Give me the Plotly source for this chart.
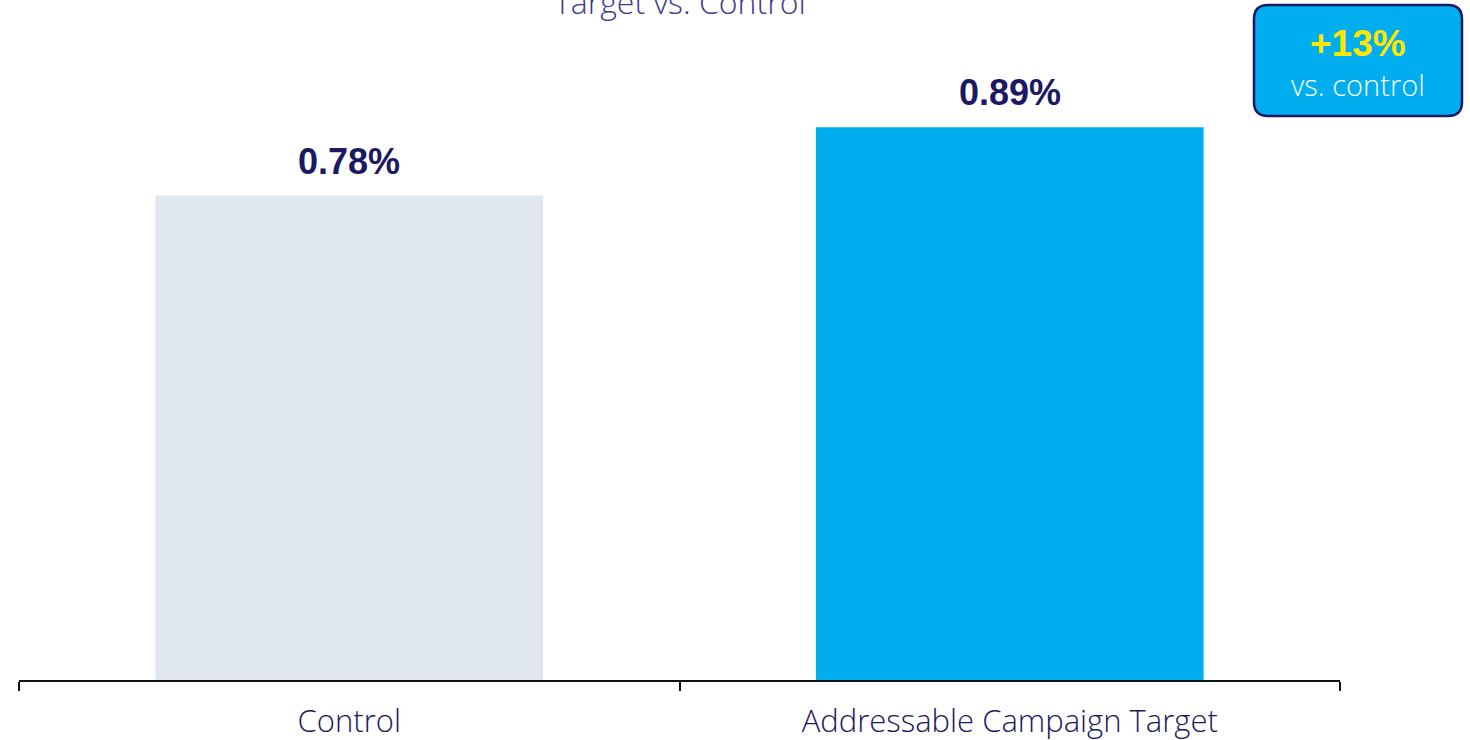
import plotly.graph_objects as go

# Conversion rate by group
categories = ["Control", "Addressable Campaign Target"]
rates = [0.78, 0.89]
bar_colors = ["#E1E7EF", "#00AEEF"]
lift_label = "+13%"
lift_caption = "vs. control"
chart_title = "Target vs. Control"

NAVY = "#1D1862"
LIGHT_FONT = "Open Sans"
BOLD_FONT = "Liberation Sans, Arial"
W, H = 1470, 740
M_L, M_R, M_T, M_B = 19, 130, 0, 60
PW, PH = W - M_L - M_R, H - M_T - M_B

fig = go.Figure(
    go.Bar(
        x=categories,
        y=rates,
        marker=dict(color=bar_colors, line=dict(width=0)),
        hoverinfo="skip",
    )
)

# value labels above each bar
for cat, v in zip(categories, rates):
    fig.add_annotation(
        x=cat, y=v, xref="x", yref="y", showarrow=False,
        text=f"<b>{v:.2f}%</b>", yanchor="bottom", xanchor="center", yshift=12,
        font=dict(family=BOLD_FONT, size=36, color=NAVY),
    )


def px_to_paper(x, y):
    return (x - M_L) / PW, (H - M_B - y) / PH


def rounded_rect(x0, y0, x1, y1, r):
    # path in paper coordinates for a rectangle given in pixels
    def p(x, y):
        a, b = px_to_paper(x, y)
        return f"{a:.5f},{b:.5f}"
    return (
        f"M {p(x0 + r, y0)} L {p(x1 - r, y0)} Q {p(x1, y0)} {p(x1, y0 + r)} "
        f"L {p(x1, y1 - r)} Q {p(x1, y1)} {p(x1 - r, y1)} "
        f"L {p(x0 + r, y1)} Q {p(x0, y1)} {p(x0, y1 - r)} "
        f"L {p(x0, y0 + r)} Q {p(x0, y0)} {p(x0 + r, y0)} Z"
    )


fig.add_shape(
    type="path",
    xref="paper",
    yref="paper",
    path=rounded_rect(1254, 5, 1462, 116, 14),
    fillcolor="#00AEEF",
    line=dict(color=NAVY, width=2.5),
    layer="above",
)

bx, by1 = px_to_paper(1358, 43)
_, by2 = px_to_paper(1358, 84)
fig.add_annotation(
    x=bx, y=by1, xref="paper", yref="paper", showarrow=False,
    xanchor="center", yanchor="middle",
    text=f"<b>{lift_label}</b>",
    font=dict(family=BOLD_FONT, size=37, color="#FFE600"),
)
fig.add_annotation(
    x=bx, y=by2, xref="paper", yref="paper", showarrow=False,
    xanchor="center", yanchor="middle",
    text=lift_caption,
    font=dict(family=LIGHT_FONT, size=29, color="#FFFFFF", weight=300),
)

tx, ty = px_to_paper(680, 2)
fig.add_annotation(
    x=tx, y=ty, xref="paper", yref="paper", showarrow=False,
    text=chart_title, xanchor="center", yanchor="middle",
    font=dict(family=LIGHT_FONT, size=32, color="#3E3A8C", weight=300),
)

fig.update_layout(
    width=W,
    height=H,
    margin=dict(l=M_L, r=M_R, t=M_T, b=M_B),
    paper_bgcolor="white",
    plot_bgcolor="white",
    bargap=0.413,
    showlegend=False,
    xaxis=dict(
        tickson="boundaries",
        ticks="outside",
        ticklen=9,
        tickwidth=1.5,
        tickcolor="#111111",
        showline=True,
        linecolor="#111111",
        linewidth=1.5,
        showgrid=False,
        ticklabelstandoff=13,
        tickfont=dict(family=LIGHT_FONT, size=31, color=NAVY, weight=300),
    ),
    yaxis=dict(
        range=[0, 1.095],
        visible=False,
        showgrid=False,
        zeroline=False,
    ),
)

fig.write_html("out.html")
